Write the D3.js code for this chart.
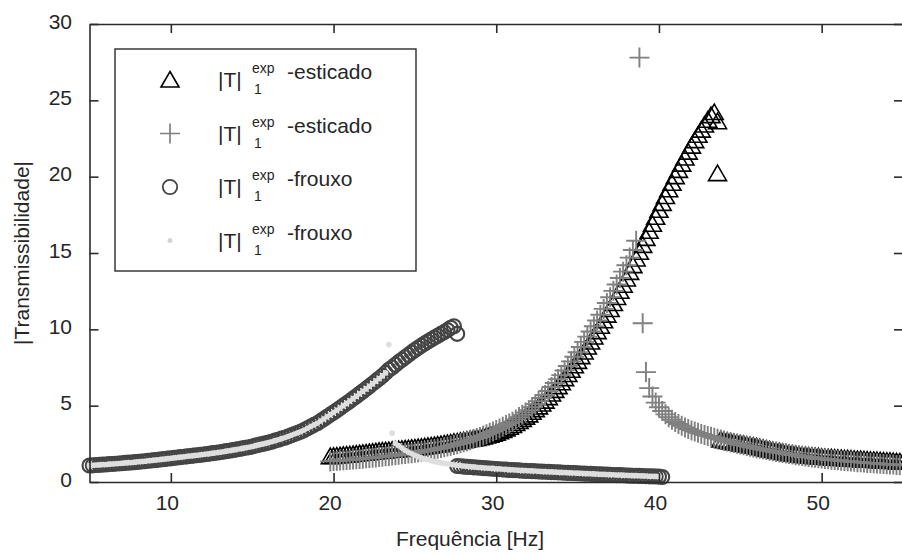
<!DOCTYPE html>
<html>
<head>
<meta charset="utf-8">
<script src="https://cdn.jsdelivr.net/npm/d3@7"></script>
<style>
	body { margin: 0; background: white; }
	text { font-family: "Liberation Sans", Arial, Helvetica, sans-serif; fill: #262626; }
</style>
</head>
<body>
<div id="chart"></div>
<script>
// measurement frequency grid (Hz), 0.2 Hz step
let freq = [5,5.2,5.4,5.6,5.8,6,6.2,6.4,6.6,6.8,7,7.2,7.4,7.6,7.8,8,8.2,8.4,8.6,8.8,
	9,9.2,9.4,9.6,9.8,10,10.2,10.4,10.6,10.8,11,11.2,11.4,11.6,11.8,12,12.2,12.4,12.6,12.8,
	13,13.2,13.4,13.6,13.8,14,14.2,14.4,14.6,14.8,15,15.2,15.4,15.6,15.8,16,16.2,16.4,16.6,16.8,
	17,17.2,17.4,17.6,17.8,18,18.2,18.4,18.6,18.8,19,19.2,19.4,19.6,19.8,20,20.2,20.4,20.6,20.8,
	21,21.2,21.4,21.6,21.8,22,22.2,22.4,22.6,22.8,23,23.2,23.4,23.6,23.8,24,24.2,24.4,24.6,24.8,
	25,25.2,25.4,25.6,25.8,26,26.2,26.4,26.6,26.8,27,27.2,27.4,27.6,27.8,28,28.2,28.4,28.6,28.8,
	29,29.2,29.4,29.6,29.8,30,30.2,30.4,30.6,30.8,31,31.2,31.4,31.6,31.8,32,32.2,32.4,32.6,32.8,
	33,33.2,33.4,33.6,33.8,34,34.2,34.4,34.6,34.8,35,35.2,35.4,35.6,35.8,36,36.2,36.4,36.6,36.8,
	37,37.2,37.4,37.6,37.8,38,38.2,38.4,38.6,38.8,39,39.2,39.4,39.6,39.8,40,40.2,40.4,40.6,40.8,
	41,41.2,41.4,41.6,41.8,42,42.2,42.4,42.6,42.8,43,43.2,43.4,43.6,43.8,44,44.2,44.4,44.6,44.8,
	45,45.2,45.4,45.6,45.8,46,46.2,46.4,46.6,46.8,47,47.2,47.4,47.6,47.8,48,48.2,48.4,48.6,48.8,
	49,49.2,49.4,49.6,49.8,50,50.2,50.4,50.6,50.8,51,51.2,51.4,51.6,51.8,52,52.2,52.4,52.6,52.8,
	53,53.2,53.4,53.6,53.8,54,54.2,54.4,54.6,54.8,55];

// circles, frouxo, rising: 5.0 -> 27.6
let circUpStart = 5;
let circUp = [1.08,1.09,1.11,1.12,1.14,1.15,1.17,1.18,1.2,1.21,1.23,1.25,1.27,1.28,1.3,
	1.32,1.34,1.36,1.39,1.41,1.43,1.45,1.48,1.5,1.53,1.55,1.58,1.6,1.63,1.65,
	1.68,1.7,1.73,1.75,1.78,1.8,1.83,1.86,1.89,1.92,1.95,1.98,2.02,2.05,2.09,
	2.12,2.16,2.2,2.24,2.28,2.33,2.38,2.43,2.48,2.53,2.58,2.64,2.71,2.77,2.84,
	2.9,2.98,3.06,3.14,3.22,3.3,3.41,3.52,3.63,3.74,3.85,3.99,4.13,4.27,4.41,
	4.55,4.7,4.85,5.0,5.15,5.3,5.46,5.62,5.78,5.94,6.1,6.27,6.44,6.61,6.78,
	6.95,7.15,7.35,7.5,7.68,7.85,8.01,8.17,8.33,8.49,8.65,8.79,8.93,9.07,9.2,
	9.33,9.46,9.58,9.7,9.82,9.95,10.1,10.2,9.7];

// dots, frouxo, rising: 5.0 -> 23.6
let dotUpStart = 5;
let dotUp = [1.08,1.09,1.11,1.12,1.14,1.15,1.17,1.18,1.2,1.21,1.23,1.25,1.27,1.28,1.3,
	1.32,1.34,1.36,1.39,1.41,1.43,1.45,1.48,1.5,1.53,1.55,1.58,1.6,1.63,1.65,
	1.68,1.7,1.73,1.75,1.78,1.8,1.83,1.86,1.89,1.92,1.95,1.98,2.02,2.05,2.09,
	2.12,2.16,2.2,2.24,2.28,2.33,2.38,2.43,2.48,2.53,2.58,2.64,2.71,2.77,2.84,
	2.9,2.98,3.06,3.14,3.22,3.3,3.41,3.52,3.63,3.74,3.85,3.99,4.13,4.27,4.41,
	4.55,4.7,4.85,5.0,5.15,5.3,5.46,5.62,5.78,5.94,6.1,6.27,6.44,6.61,6.78,
	6.95,7.15,9.0,3.2];

// circles, frouxo, decaying: 27.6 -> 40.2
let circDownStart = 27.6;
let circDown = [1.05,1.03,1.01,0.99,0.98,0.96,0.95,0.93,0.91,0.9,0.88,0.87,0.85,0.84,0.82,0.81,0.79,
	0.78,0.77,0.76,0.74,0.73,0.72,0.71,0.7,0.69,0.68,0.67,0.66,0.65,0.64,0.63,
	0.62,0.61,0.6,0.59,0.58,0.57,0.56,0.55,0.54,0.53,0.52,0.51,0.5,0.49,0.48,
	0.47,0.46,0.45,0.45,0.44,0.43,0.42,0.41,0.41,0.4,0.39,0.38,0.37,0.37,0.36,0.35,0.33];

// dots, frouxo, decaying: 23.8 -> 40.0
let dotDownStart = 23.8;
let dotDown = [2.53,2.38,2.22,2.08,1.96,1.85,1.75,1.66,1.58,1.51,1.45,1.39,1.34,1.3,1.26,1.22,
	1.19,1.16,1.13,1.1,1.08,1.05,1.03,1.01,0.99,0.97,0.95,0.93,0.92,0.9,0.89,
	0.87,0.86,0.84,0.83,0.81,0.8,0.79,0.77,0.76,0.75,0.74,0.73,0.72,0.7,0.69,
	0.68,0.67,0.66,0.65,0.64,0.63,0.62,0.61,0.6,0.59,0.58,0.57,0.56,0.55,0.54,
	0.53,0.52,0.51,0.5,0.49,0.48,0.47,0.46,0.46,0.45,0.44,0.43,0.42,0.42,0.41,
	0.4,0.39,0.38,0.38,0.37,0.36];

// triangles, esticado, rising: 19.8 -> 43.6
let triUpStart = 19.8;
let triUp = [1.66,1.68,1.7,1.72,1.74,1.76,1.78,1.8,1.83,1.85,1.88,1.9,1.92,1.95,1.97,2.0,
	2.02,2.04,2.06,2.08,2.1,2.12,2.14,2.16,2.18,2.2,2.22,2.25,2.27,2.3,2.33,
	2.36,2.39,2.42,2.45,2.49,2.52,2.55,2.59,2.62,2.66,2.7,2.74,2.78,2.82,2.86,
	2.9,2.95,3.01,3.07,3.13,3.2,3.29,3.38,3.48,3.59,3.7,3.83,3.96,4.1,4.25,
	4.4,4.57,4.74,4.92,5.11,5.3,5.53,5.76,6.0,6.25,6.5,6.77,7.04,7.32,7.61,
	7.9,8.21,8.52,8.84,9.17,9.5,9.85,10.2,10.56,10.93,11.3,11.69,12.09,12.49,12.89,
	13.3,13.73,14.17,14.61,15.05,15.5,15.96,16.42,16.88,17.34,17.8,18.25,18.7,19.14,19.57,
	20.0,20.41,20.82,21.22,21.61,22.0,22.36,22.71,23.05,23.38,23.7,24.0,24.2,23.6];

// triangles, esticado, after the peak: 43.6 -> 55.0
let triDownStart = 43.6;
let triDown = [20.2,2.75,2.7,2.66,2.62,2.58,2.54,2.5,2.46,2.42,2.38,2.34,2.3,2.25,2.2,2.15,2.1,
	2.06,2.02,1.98,1.94,1.9,1.86,1.83,1.8,1.77,1.74,1.72,1.7,1.68,1.66,1.64,
	1.62,1.6,1.59,1.58,1.56,1.55,1.54,1.52,1.51,1.5,1.48,1.47,1.46,1.45,1.43,
	1.42,1.41,1.4,1.38,1.37,1.36,1.35,1.34,1.32,1.31,1.3];

// crosses, esticado, rising: 19.8 -> 38.6
let crossUpStart = 19.8;
let crossUp = [1.35,1.38,1.39,1.41,1.42,1.44,1.45,1.47,1.49,1.51,1.53,1.55,1.57,1.59,1.61,1.63,
	1.65,1.68,1.7,1.73,1.75,1.78,1.81,1.83,1.86,1.89,1.92,1.95,1.99,2.03,2.06,
	2.1,2.14,2.18,2.23,2.27,2.32,2.37,2.43,2.48,2.54,2.6,2.67,2.74,2.81,2.88,
	2.95,3.04,3.13,3.22,3.31,3.4,3.51,3.62,3.73,3.84,3.95,4.1,4.25,4.4,4.55,
	4.7,4.9,5.1,5.3,5.5,5.7,5.96,6.22,6.48,6.74,7.0,7.3,7.6,7.9,8.2,
	8.5,8.84,9.18,9.52,9.86,10.2,10.58,10.96,11.34,11.72,12.1,12.52,12.94,13.36,13.78,
	14.2,14.7,15.2,15.8];

// crosses, esticado, peak and decay: 38.8 -> 55.0
let crossDownStart = 38.8;
let crossDown = [27.8,10.4,7.2,6.15,5.6,5.2,4.9,4.65,4.43,4.24,4.08,3.93,3.8,3.68,3.57,3.47,
	3.38,3.3,3.22,3.15,3.08,3.02,2.96,2.9,2.84,2.78,2.72,2.66,2.61,2.56,2.51,
	2.46,2.41,2.36,2.31,2.26,2.21,2.17,2.13,2.09,2.05,2.01,1.97,1.93,1.9,1.86,
	1.83,1.8,1.76,1.73,1.7,1.67,1.64,1.61,1.59,1.56,1.54,1.51,1.49,1.46,1.44,
	1.42,1.4,1.38,1.36,1.34,1.32,1.3,1.29,1.27,1.25,1.24,1.22,1.21,1.19,1.18,
	1.16,1.15,1.14,1.12,1.11,1.1];

let xTicks = [10, 20, 30, 40, 50];
let yTicks = [0, 5, 10, 15, 20, 25, 30];

let legendLabels = ["-esticado", "-esticado", "-frouxo", "-frouxo"];

let width = 902;
let height = 554;

let svg = d3.select("#chart")
			.append("svg")
			.attr("width", width)
			.attr("height", height);

svg.append("rect")
	.attr("width", width)
	.attr("height", height)
	.attr("fill", "white");

let xScale = d3.scaleLinear()
				.domain([5, 55])
				.range([89.5, 903]);

let yScale = d3.scaleLinear()
				.domain([0, 30])
				.range([482, 24]);

// pair each value with its grid frequency
function onGrid(start, vs){
	let i0 = freq.indexOf(start);
	return vs.map((v, i) => [freq[i0 + i], v]);
}

let triPath = "M0,-8.5L9,7L-9,7Z";
let crossPath = "M-10,0H10M0,-10V10";

// triangles
svg.append("g")
	.selectAll("path")
	.data(onGrid(triUpStart, triUp).concat(onGrid(triDownStart, triDown)))
	.enter()
	.append("path")
	.attr("d", triPath)
	.attr("transform", d => `translate(${xScale(d[0])},${yScale(d[1])})`)
	.attr("fill", "none")
	.attr("stroke", "black")
	.attr("stroke-width", 1.6);

// crosses
svg.append("g")
	.selectAll("path")
	.data(onGrid(crossUpStart, crossUp).concat(onGrid(crossDownStart, crossDown)))
	.enter()
	.append("path")
	.attr("d", crossPath)
	.attr("transform", d => `translate(${xScale(d[0])},${yScale(d[1])})`)
	.attr("stroke", "#808080")
	.attr("stroke-width", 1.9);

// circles
svg.append("g")
	.selectAll("circle")
	.data(onGrid(circUpStart, circUp).concat(onGrid(circDownStart, circDown)))
	.enter()
	.append("circle")
	.attr("cx", d => xScale(d[0]))
	.attr("cy", d => yScale(d[1]))
	.attr("r", 7)
	.attr("fill", "none")
	.attr("stroke", "#444")
	.attr("stroke-width", 2.1);

// dots
svg.append("g")
	.selectAll("circle")
	.data(onGrid(dotUpStart, dotUp).concat(onGrid(dotDownStart, dotDown)))
	.enter()
	.append("circle")
	.attr("cx", d => xScale(d[0]))
	.attr("cy", d => yScale(d[1]))
	.attr("r", 2.8)
	.attr("fill", "#dedede");

// axes, ticks pointing inwards
function styleAxis(g){
	g.selectAll(".domain").attr("stroke", "#2b2b2b").attr("stroke-width", 1.6);
	g.selectAll(".tick line").attr("stroke", "#2b2b2b").attr("stroke-width", 1.6);
	g.selectAll("text").attr("font-size", 21).attr("fill", "#262626")
		.attr("font-family", '"Liberation Sans", Arial, sans-serif');
}

svg.append("g")
	.attr("transform", "translate(0,482)")
	.call(d3.axisBottom(xScale).tickValues(xTicks).tickSizeInner(-9).tickSizeOuter(0).tickPadding(13))
	.call(styleAxis)
	.selectAll("text").attr("dx", -4);

svg.append("g")
	.attr("transform", "translate(0,24)")
	.call(d3.axisTop(xScale).tickValues(xTicks).tickSizeInner(-9).tickSizeOuter(0).tickFormat(""))
	.call(styleAxis);

svg.append("g")
	.attr("transform", "translate(89.5,0)")
	.call(d3.axisLeft(yScale).tickValues(yTicks).tickSizeInner(-9).tickSizeOuter(0).tickPadding(17.5))
	.call(styleAxis)
	.selectAll("text").attr("dy", "0.19em");

svg.append("g")
	.attr("transform", "translate(903,0)")
	.call(d3.axisRight(yScale).tickValues(yTicks).tickSizeInner(-9).tickSizeOuter(0).tickFormat(""))
	.call(styleAxis);

// axis titles
svg.append("text")
	.attr("x", 470)
	.attr("y", 546)
	.attr("text-anchor", "middle")
	.attr("font-size", 21)
	.text("Frequência [Hz]");

svg.append("text")
	.attr("transform", "translate(29,253) rotate(-90)")
	.attr("text-anchor", "middle")
	.attr("font-size", 21)
	.text("|Transmissibilidade|");

// legend
let legend = svg.append("g");

legend.append("rect")
	.attr("x", 115)
	.attr("y", 49)
	.attr("width", 301)
	.attr("height", 222)
	.attr("fill", "white")
	.attr("stroke", "#2b2b2b")
	.attr("stroke-width", 1.4);

let rowY = [80, 133.5, 187, 240.5];

legend.append("path").attr("d", triPath)
	.attr("transform", `translate(170,${rowY[0]})`)
	.attr("fill", "none").attr("stroke", "black").attr("stroke-width", 1.6);
legend.append("path").attr("d", crossPath)
	.attr("transform", `translate(170,${rowY[1]})`)
	.attr("stroke", "#808080").attr("stroke-width", 1.7);
legend.append("circle").attr("cx", 170).attr("cy", rowY[2]).attr("r", 7.2)
	.attr("fill", "none").attr("stroke", "#444").attr("stroke-width", 1.8);
legend.append("circle").attr("cx", 170).attr("cy", rowY[3]).attr("r", 2.5)
	.attr("fill", "#d4d4d4");

legendLabels.forEach((lab, i) => {
	let y = rowY[i];
	legend.append("text").attr("x", 218).attr("y", y + 7).attr("font-size", 21).text("|T|");
	legend.append("text").attr("x", 252).attr("y", y - 7).attr("font-size", 14).text("exp");
	legend.append("text").attr("x", 254).attr("y", y + 14).attr("font-size", 14).text("1");
	legend.append("text").attr("x", 287).attr("y", y - 1).attr("font-size", 21).text(lab);
});
</script>
</body>
</html>
